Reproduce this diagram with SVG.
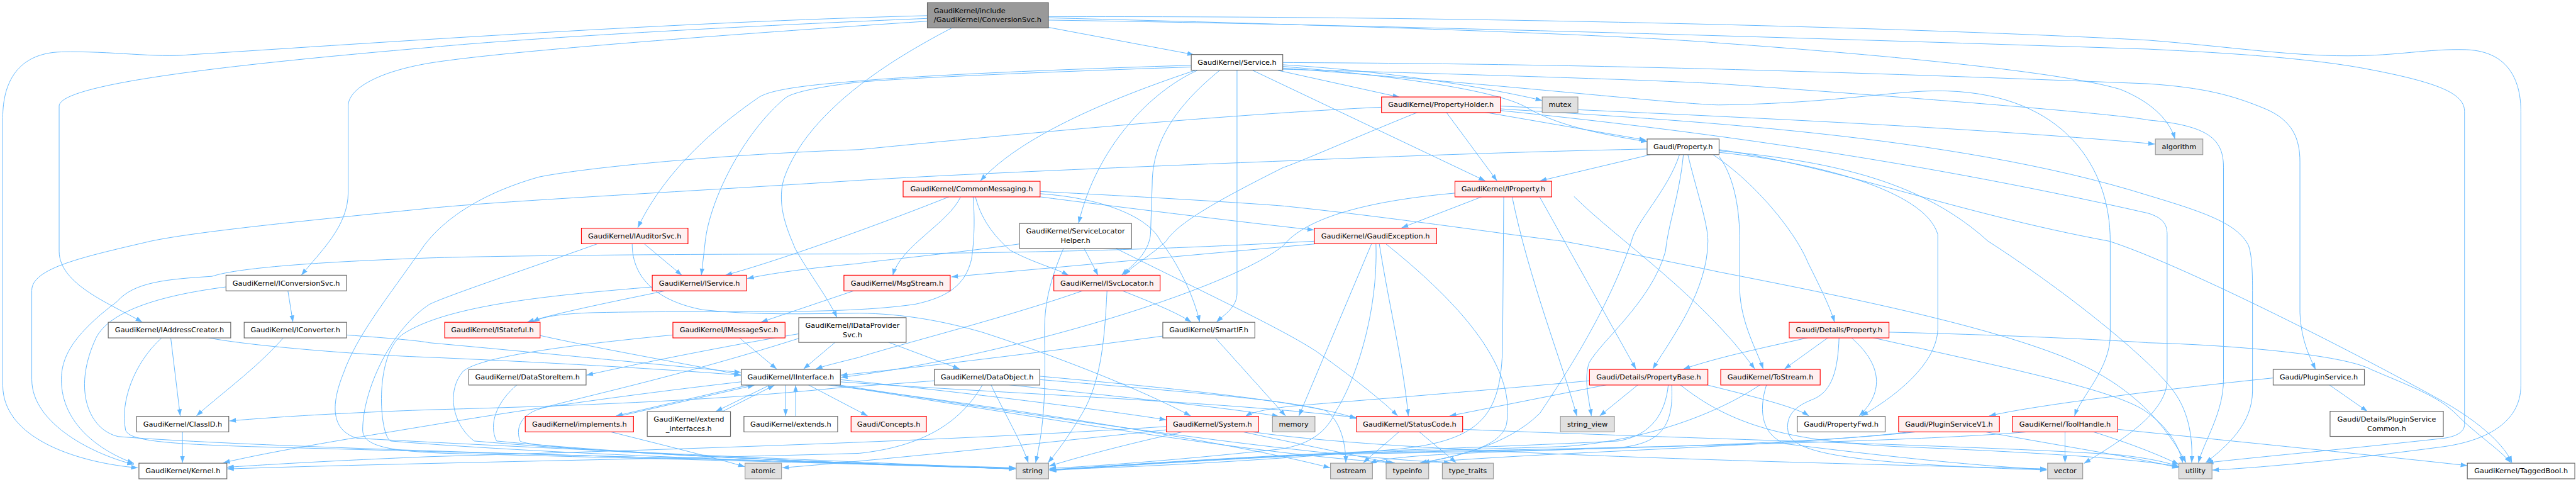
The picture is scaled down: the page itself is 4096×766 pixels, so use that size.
<svg xmlns="http://www.w3.org/2000/svg" width="4096" height="766" viewBox="0 0 4096 766">
<style>
.e{fill:none;stroke:#63b8ff;stroke-width:1.1;marker-end:url(#a)}
rect{stroke-width:1.3}
.w{fill:#ffffff;stroke:#666666}
.r{fill:#fff0f0;stroke:#ff0000}
.g{fill:#e0e0e0;stroke:#999999}
.rt{fill:#999999;stroke:#666666}
text{font-family:"DejaVu Sans","Liberation Sans",sans-serif;font-size:12.8px;fill:#000000}
.c{text-anchor:middle}
</style>
<defs>
<marker id="a" markerUnits="userSpaceOnUse" markerWidth="13" markerHeight="10" refX="12" refY="4.5" orient="auto"><path d="M0,0.3 L12,4.5 L0,8.7 z" fill="#63b8ff"/></marker>
</defs>
<rect x="0" y="0" width="4096" height="766" fill="#ffffff"/>
<g transform="scale(0.8872)">
<g id="edges">
<path class="e" d="M1879,49 L2140,98"/>
<path class="e" d="M1662,28 C1200,40 700,75 340,98 C280,104 200,91 110,93 C30,95 5,150 5,210 L5,690 C5,790 150,830 247,838"/>
<path class="e" d="M1662,33 C1250,50 900,72 770,85 C420,115 106,150 106,190 L106,450 C106,510 200,545 255,577"/>
<path class="e" d="M1662,38 C1300,62 900,92 770,113 C680,128 624,158 624,190 L624,345 C624,405 575,450 540,493"/>
<path class="e" d="M1706,50 C1620,95 1450,190 1405,320 C1390,370 1415,420 1425,445 C1450,490 1485,535 1500,569"/>
<path class="e" d="M1879,32 C2400,45 2900,62 3080,77 C3400,100 3700,130 3800,160 C3862,185 3890,220 3898,249"/>
<path class="e" d="M1879,30 C2600,28 3400,48 3850,72 C4000,84 4100,100 4208,100 C4300,100 4350,87 4420,89 C4500,92 4518,150 4518,200 L4518,690 C4518,760 4450,790 4380,800 C4200,824 4050,838 3965,842"/>
<path class="e" d="M1879,36 C2500,45 3300,70 3850,88 C4000,95 4150,105 4250,125 C4380,150 4417,170 4417,200 L4417,760 C4417,775 4400,782 4380,785 C4200,805 4050,818 3955,829"/>
<path class="e" d="M2142,126 C1950,190 1820,255 1757,324"/>
<path class="e" d="M2146,126 C2060,165 1965,265 1933,400"/>
<path class="e" d="M2186,126 C2095,200 2065,265 2065,330 L2062,420 C2058,455 2030,475 2010,493"/>
<path class="e" d="M2217,126 L2217,525 C2217,550 2195,563 2180,577"/>
<path class="e" d="M2245,126 L2662,324"/>
<path class="e" d="M2290,126 L2508,174"/>
<path class="e" d="M2299,116 C2500,128 2680,160 2764,180"/>
<path class="e" d="M2299,119 C2550,140 2700,168 2740,195 C2800,228 2880,242 2953,254"/>
<path class="e" d="M2299,112 C2700,114 3100,120 3850,150 C3950,157 4000,170 4060,195 C4110,216 4122,250 4122,290 L4122,560 C4124,610 4140,640 4150,662"/>
<path class="e" d="M2299,122 C2700,152 3000,186 3080,188 C3300,185 3400,160 3490,163 C3700,170 3782,300 3782,432 L3782,600 C3782,660 3730,710 3718,745"/>
<path class="e" d="M2135,117 C1900,124 1650,135 1540,145 C1450,152 1380,160 1359,175 C1250,250 1180,330 1143,408"/>
<path class="e" d="M2135,120 C1900,128 1650,138 1540,147 C1470,155 1422,165 1408,175 C1330,240 1272,360 1264,432 L1257,493"/>
<path class="e" d="M2299,124 C2700,135 3000,145 3080,150 C3500,180 3800,205 3850,215 C3960,225 3985,250 3985,300 L3985,680 C3985,740 3950,790 3940,829"/>
<path class="e" d="M2592,201 L2683,324"/>
<path class="e" d="M2661,201 L2950,251"/>
<path class="e" d="M2541,201 C2420,250 2330,290 2300,300 C2180,360 2110,400 2090,432 C2060,460 2030,475 2015,493"/>
<path class="e" d="M2689,190 C3000,205 3500,225 3862,258"/>
<path class="e" d="M2689,195 C3000,215 3500,240 3850,350 C3950,380 4010,400 4030,440 C4037,460 4037,500 4037,520 L4037,700 C4037,760 3990,800 3953,829"/>
<path class="e" d="M2689,198 C3000,230 3400,280 3850,382 C3875,390 3884,400 3884,420 L3884,680 C3884,740 3800,790 3735,830"/>
<path class="e" d="M2476,192 C2300,200 2000,222 1540,268 C1300,276 1050,300 966,317 C850,350 790,400 760,440 C690,540 640,600 615,670 C595,720 590,770 640,785 C1000,805 1600,830 1820,840"/>
<path class="e" d="M2958,277 L2760,324"/>
<path class="e" d="M2952,267 C2700,272 2400,284 2310,288 C2000,300 1700,313 1540,323 C1200,345 900,360 770,373 C550,395 350,415 270,432 C150,460 57,480 57,520 L57,680 C57,760 170,815 240,832"/>
<path class="e" d="M3025,277 C3040,340 3061,400 3061,432 C3060,520 3000,600 2962,661"/>
<path class="e" d="M3017,277 C3010,350 2990,400 2985,450 C2960,540 2870,610 2848,650 C2838,680 2848,715 2852,745"/>
<path class="e" d="M3010,277 C2990,340 2930,400 2924,432 C2880,560 2800,680 2760,740 C2700,800 2600,820 2545,829"/>
<path class="e" d="M3070,277 C3150,330 3220,420 3240,470 C3260,510 3280,550 3288,577"/>
<path class="e" d="M3081,280 C3110,320 3118,380 3118,432 L3118,520 C3120,580 3150,630 3160,661"/>
<path class="e" d="M3081,273 C3250,290 3450,340 3473,420 L3473,590 C3470,660 3380,720 3336,745"/>
<path class="e" d="M3081,270 C3300,290 3450,330 3563,432 C3700,520 3850,640 3895,700 C3925,740 3930,790 3928,829"/>
<path class="e" d="M3081,268 C3300,300 3500,380 3780,432 C3900,470 4200,620 4380,720 C4450,760 4490,800 4502,829"/>
<path class="e" d="M1702,352 C1620,385 1420,460 1300,493"/>
<path class="e" d="M1722,352 C1700,400 1615,440 1600,493"/>
<path class="e" d="M1748,352 C1760,400 1790,430 1810,448 C1850,470 1890,480 1915,493"/>
<path class="e" d="M1859,352 C2000,370 2200,395 2355,412"/>
<path class="e" d="M1864,347 C1980,355 2060,390 2080,432 C2110,470 2140,530 2150,577"/>
<path class="e" d="M1744,352 C1748,400 1745,440 1741,465 C1730,510 1700,532 1640,545 C1500,565 1300,555 1065,560 C1000,562 970,568 955,577"/>
<path class="e" d="M1864,343 C2100,355 2300,368 2310,370 C2500,390 2700,420 2801,432 C2900,450 3000,470 3080,487 C3300,530 3550,580 3700,640 C3800,680 3870,740 3918,829"/>
<path class="e" d="M2657,352 L2512,408"/>
<path class="e" d="M2607,346 C2450,360 2340,390 2300,440 C2200,520 1800,640 1507,676"/>
<path class="e" d="M2710,352 C2740,500 2800,650 2826,745"/>
<path class="e" d="M2759,352 L2932,661"/>
<path class="e" d="M2821,352 C2900,430 3050,530 3145,661"/>
<path class="e" d="M2695,352 L2693,620 C2690,740 2660,790 2500,805 C2200,830 2000,838 1880,841"/>
<path class="e" d="M2458,437 L2328,745"/>
<path class="e" d="M2472,437 C2490,550 2515,650 2524,745"/>
<path class="e" d="M2466,437 C2470,560 2430,680 2395,735 C2380,770 2350,800 2280,806 C2100,825 1950,836 1881,839"/>
<path class="e" d="M2484,437 C2600,530 2720,650 2700,760 C2690,800 2620,815 2550,829"/>
<path class="e" d="M2357,432 C2200,440 2000,452 1540,455 C1200,455 900,458 770,462 C600,468 430,478 380,495 C300,500 240,505 210,540 C130,600 110,640 110,680 C110,760 180,808 240,830"/>
<path class="e" d="M2356,437 L1705,496"/>
<path class="e" d="M1155,437 L1222,493"/>
<path class="e" d="M1070,437 C950,480 800,530 770,545 C700,590 650,700 650,770 C650,800 700,808 800,812 C1300,825 1700,835 1820,840"/>
<path class="e" d="M1133,437 C1133,500 1180,540 1260,555 C1350,565 1450,562 1540,561 C1620,562 1690,575 1760,595 C1900,640 2050,700 2134,745"/>
<path class="e" d="M1943,445 L1968,493"/>
<path class="e" d="M1906,445 C1874,520 1872,560 1872,600 C1874,700 1872,760 1856,829"/>
<path class="e" d="M2000,445 C2150,520 2300,590 2360,630 C2430,680 2480,720 2505,745"/>
<path class="e" d="M1827,437 C1700,455 1560,468 1540,472 C1450,480 1380,490 1339,499"/>
<path class="e" d="M516,521 L525,577"/>
<path class="e" d="M405,514 C280,530 190,560 170,610 C130,700 160,770 212,782 C500,805 1400,825 1820,838"/>
<path class="e" d="M306,605 L323,745"/>
<path class="e" d="M290,605 C240,650 215,720 225,770 C230,790 300,795 450,800 C1000,815 1500,828 1820,839"/>
<path class="e" d="M373,605 C450,620 650,636 770,640 C1000,650 1200,662 1328,672"/>
<path class="e" d="M508,605 C460,660 390,710 352,745"/>
<path class="e" d="M621,600 C700,606 750,610 770,614 C1000,635 1200,655 1328,667"/>
<path class="e" d="M327,773 L327,829"/>
<path class="e" d="M1192,521 C1100,540 1000,560 945,577"/>
<path class="e" d="M1169,514 C1000,528 800,545 720,600 C670,640 680,780 700,790 C1000,815 1500,830 1820,840"/>
<path class="e" d="M968,601 C1100,630 1250,655 1328,672"/>
<path class="e" d="M1325,605 L1392,661"/>
<path class="e" d="M1206,600 C1000,620 860,640 830,665 C800,700 810,760 850,790 C1200,820 1600,832 1820,840"/>
<path class="e" d="M1497,613 L1440,661"/>
<path class="e" d="M1431,598 C1300,620 1150,650 1051,672"/>
<path class="e" d="M1592,613 L1720,661"/>
<path class="e" d="M1432,606 C1200,680 1000,720 960,735 C930,748 925,770 932,790 C950,805 1400,826 1820,840"/>
<path class="e" d="M927,689 C890,720 875,760 890,790 C1200,820 1600,832 1820,840"/>
<path class="e" d="M1345,689 L1104,745"/>
<path class="e" d="M1112,745 L1352,690"/>
<path class="e" d="M1379,690 L1283,737"/>
<path class="e" d="M1295,737 L1388,690"/>
<path class="e" d="M1408,690 L1408,745"/>
<path class="e" d="M1426,745 L1426,690"/>
<path class="e" d="M1328,684 C1100,710 900,740 770,762 C600,790 480,810 400,829"/>
<path class="e" d="M1506,680 C1700,700 1950,730 2090,752"/>
<path class="e" d="M1506,684 C1800,705 2200,720 2431,748"/>
<path class="e" d="M1448,689 L1555,745"/>
<path class="e" d="M1480,689 C1800,730 2200,790 2384,838"/>
<path class="e" d="M1490,689 C1850,745 2250,815 2500,829"/>
<path class="e" d="M1500,689 C1900,752 2350,818 2600,829"/>
<path class="e" d="M1092,773 C1200,800 1280,820 1335,836"/>
<path class="e" d="M1776,689 C1800,740 1830,790 1843,829"/>
<path class="e" d="M1761,689 C1720,760 1650,800 1540,812 C1200,822 700,830 407,840"/>
<path class="e" d="M1675,682 C1600,688 1530,692 1500,695 C1300,715 1100,725 770,734 C600,740 480,748 411,754"/>
<path class="e" d="M1805,689 C2000,710 2200,730 2292,746"/>
<path class="e" d="M1864,680 C2100,700 2300,715 2375,735 C2405,755 2412,800 2412,829"/>
<path class="e" d="M1864,674 C2100,695 2350,720 2431,750"/>
<path class="e" d="M2178,605 L2304,745"/>
<path class="e" d="M2084,602 C1800,640 1600,663 1507,672"/>
<path class="e" d="M2012,521 C2060,540 2110,560 2135,577"/>
<path class="e" d="M1940,521 C1800,570 1600,620 1540,640 C1500,650 1475,656 1462,661"/>
<path class="e" d="M1984,521 C1980,600 1975,680 1940,740 C1910,790 1890,815 1878,829"/>
<path class="e" d="M1530,521 L1364,577"/>
<path class="e" d="M2122,773 C2000,800 1930,820 1880,835"/>
<path class="e" d="M2090,764 C1700,790 1200,805 770,818 C600,825 480,832 407,837"/>
<path class="e" d="M2225,773 C2350,800 2450,820 2495,830"/>
<path class="e" d="M2240,773 C2500,812 3200,828 3668,840"/>
<path class="e" d="M2090,770 C1900,790 1600,822 1402,838"/>
<path class="e" d="M2508,773 L2443,829"/>
<path class="e" d="M2543,773 L2610,829"/>
<path class="e" d="M2621,769 C3000,785 3600,800 3800,815 C3860,822 3890,830 3905,836"/>
<path class="e" d="M2881,689 L2598,745"/>
<path class="e" d="M2936,689 L2867,745"/>
<path class="e" d="M2849,682 C2600,705 2400,720 2310,728 C2270,733 2245,738 2232,746"/>
<path class="e" d="M2990,689 C2985,740 2960,780 2900,790 C2700,800 2450,808 2380,812 C2100,825 1950,838 1881,841"/>
<path class="e" d="M2996,689 C3000,760 2980,795 2900,802 C2700,810 2500,812 2455,830"/>
<path class="e" d="M3011,689 C3100,760 3200,790 3400,800 C3700,812 3850,825 3905,836"/>
<path class="e" d="M3061,690 C3150,712 3220,730 3242,745"/>
<path class="e" d="M3155,689 C3080,740 2950,790 2800,800 C2600,806 2450,810 2380,813 C2100,826 1950,838 1881,842"/>
<path class="e" d="M3166,689 C3150,740 3160,780 3200,795 C3400,820 3550,835 3668,841"/>
<path class="e" d="M3276,605 L3198,661"/>
<path class="e" d="M3318,605 C3370,650 3380,700 3332,745"/>
<path class="e" d="M3240,605 C3150,625 3080,640 3017,661"/>
<path class="e" d="M3385,595 C3600,600 3800,610 3850,614 C4000,618 4200,635 4250,662 C4320,692 4370,710 4400,740 C4440,780 4480,805 4500,829"/>
<path class="e" d="M3357,605 C3600,660 3800,700 3850,740 C3890,770 3905,800 3912,829"/>
<path class="e" d="M3296,605 C3294,660 3285,700 3250,715 C3210,730 3200,750 3205,775 C3215,810 3300,830 3668,842"/>
<path class="e" d="M4174,689 L4243,737"/>
<path class="e" d="M4074,677 C3900,695 3650,725 3565,745"/>
<path class="e" d="M3701,773 L3701,829"/>
<path class="e" d="M3640,773 C3400,795 2700,805 2380,813 C2100,826 1950,838 1881,842"/>
<path class="e" d="M3750,773 C3820,795 3870,815 3905,832"/>
<path class="e" d="M3795,769 C4000,790 4250,815 4422,834"/>
<path class="e" d="M3440,773 C3200,800 2700,808 2380,814 C2100,827 1950,839 1881,843"/>
<path class="e" d="M3555,773 C3700,800 3820,818 3905,838"/>
<path class="e" d="M3430,773 C3200,800 2800,808 2545,829"/>
</g>
<g id="n_root"><rect class="rt" x="1662" y="4.7" width="217" height="45.3"/><text x="1673.6" y="23.5">GaudiKernel/include</text><text x="1673.6" y="40">/GaudiKernel/ConversionSvc.h</text></g>
<g id="n_service"><rect class="w" x="2135" y="97.7" width="164" height="28"/><text class="c" x="2217" y="116">GaudiKernel/Service.h</text></g>
<g id="n_propertyholder"><rect class="r" x="2476" y="173.7" width="213" height="28"/><text class="c" x="2582.5" y="192">GaudiKernel/PropertyHolder.h</text></g>
<g id="n_mutex"><rect class="g" x="2764" y="173.7" width="64" height="28"/><text class="c" x="2796" y="192">mutex</text></g>
<g id="n_property"><rect class="w" x="2952" y="249" width="129" height="28"/><text class="c" x="3016.5" y="267.3">Gaudi/Property.h</text></g>
<g id="n_algorithm"><rect class="g" x="3863" y="249" width="85" height="28"/><text class="c" x="3905.5" y="267.3">algorithm</text></g>
<g id="n_commonmessaging"><rect class="r" x="1618.6" y="324.7" width="245.5" height="28"/><text class="c" x="1741.3" y="343">GaudiKernel/CommonMessaging.h</text></g>
<g id="n_iproperty"><rect class="r" x="2607.6" y="324.7" width="173.4" height="28"/><text class="c" x="2694.3" y="343">GaudiKernel/IProperty.h</text></g>
<g id="n_iauditorsvc"><rect class="r" x="1042" y="408.7" width="191" height="28"/><text class="c" x="1137.5" y="427">GaudiKernel/IAuditorSvc.h</text></g>
<g id="n_servicelocatorhelper"><rect class="w" x="1827" y="400.3" width="201" height="44.7"/><text class="c" x="1927.5" y="418.5">GaudiKernel/ServiceLocator</text><text class="c" x="1927.5" y="435.2">Helper.h</text></g>
<g id="n_gaudiexception"><rect class="r" x="2355.7" y="408.7" width="219" height="28"/><text class="c" x="2465.2" y="427">GaudiKernel/GaudiException.h</text></g>
<g id="n_iconversionsvc"><rect class="w" x="405" y="493" width="216" height="28"/><text class="c" x="513" y="511.3">GaudiKernel/IConversionSvc.h</text></g>
<g id="n_iservice"><rect class="r" x="1169" y="493" width="169" height="28"/><text class="c" x="1253.5" y="511.3">GaudiKernel/IService.h</text></g>
<g id="n_msgstream"><rect class="r" x="1512.5" y="493" width="190.5" height="28"/><text class="c" x="1607.8" y="511.3">GaudiKernel/MsgStream.h</text></g>
<g id="n_isvclocator"><rect class="r" x="1888.7" y="493" width="190.5" height="28"/><text class="c" x="1984" y="511.3">GaudiKernel/ISvcLocator.h</text></g>
<g id="n_iaddresscreator"><rect class="w" x="194" y="577.3" width="219.5" height="28"/><text class="c" x="303.8" y="595.6">GaudiKernel/IAddressCreator.h</text></g>
<g id="n_iconverter"><rect class="w" x="437.6" y="577.3" width="183.6" height="28"/><text class="c" x="529.4" y="595.6">GaudiKernel/IConverter.h</text></g>
<g id="n_istateful"><rect class="r" x="797" y="577.3" width="171" height="28"/><text class="c" x="882.5" y="595.6">GaudiKernel/IStateful.h</text></g>
<g id="n_imessagesvc"><rect class="r" x="1206" y="577.3" width="201" height="28"/><text class="c" x="1306.5" y="595.6">GaudiKernel/IMessageSvc.h</text></g>
<g id="n_idataprovidersvc"><rect class="w" x="1431.5" y="569" width="192.5" height="44.3"/><text class="c" x="1527.8" y="587">GaudiKernel/IDataProvider</text><text class="c" x="1527.8" y="603.7">Svc.h</text></g>
<g id="n_smartif"><rect class="w" x="2084" y="577.3" width="165" height="28"/><text class="c" x="2166.5" y="595.6">GaudiKernel/SmartIF.h</text></g>
<g id="n_detailsproperty"><rect class="r" x="3206.7" y="577.3" width="178.8" height="28"/><text class="c" x="3296.1" y="595.6">Gaudi/Details/Property.h</text></g>
<g id="n_datastoreitem"><rect class="w" x="840.2" y="661.7" width="210.2" height="28"/><text class="c" x="945.3" y="680">GaudiKernel/DataStoreItem.h</text></g>
<g id="n_iinterface"><rect class="w" x="1328.4" y="661.7" width="177.8" height="28"/><text class="c" x="1417.3" y="680">GaudiKernel/IInterface.h</text></g>
<g id="n_dataobject"><rect class="w" x="1674.6" y="661.7" width="189" height="28"/><text class="c" x="1769.1" y="680">GaudiKernel/DataObject.h</text></g>
<g id="n_propertybase"><rect class="r" x="2848.7" y="661.7" width="212.2" height="28"/><text class="c" x="2954.8" y="680">Gaudi/Details/PropertyBase.h</text></g>
<g id="n_tostream"><rect class="r" x="3083.9" y="661.7" width="178.3" height="28"/><text class="c" x="3173" y="680">GaudiKernel/ToStream.h</text></g>
<g id="n_pluginservice"><rect class="w" x="4074" y="661.7" width="163.5" height="28"/><text class="c" x="4155.8" y="680">Gaudi/PluginService.h</text></g>
<g id="n_classid"><rect class="w" x="245" y="745.7" width="165" height="28"/><text class="c" x="327.5" y="764">GaudiKernel/ClassID.h</text></g>
<g id="n_implements"><rect class="r" x="941.4" y="745.7" width="194" height="28"/><text class="c" x="1038.4" y="764">GaudiKernel/implements.h</text></g>
<g id="n_extend_interfaces"><rect class="w" x="1160" y="737.3" width="149.2" height="44.4"/><text class="c" x="1234.6" y="755.5">GaudiKernel/extend</text><text class="c" x="1234.6" y="772.2">_interfaces.h</text></g>
<g id="n_extends"><rect class="w" x="1333.3" y="745.7" width="167.9" height="28"/><text class="c" x="1417.3" y="764">GaudiKernel/extends.h</text></g>
<g id="n_concepts"><rect class="r" x="1525.3" y="745.7" width="135" height="28"/><text class="c" x="1592.8" y="764">Gaudi/Concepts.h</text></g>
<g id="n_system"><rect class="r" x="2090.5" y="745.7" width="165" height="28"/><text class="c" x="2173" y="764">GaudiKernel/System.h</text></g>
<g id="n_memory"><rect class="g" x="2280.6" y="745.7" width="76.1" height="28"/><text class="c" x="2318.7" y="764">memory</text></g>
<g id="n_statuscode"><rect class="r" x="2431.3" y="745.7" width="190.1" height="28"/><text class="c" x="2526.4" y="764">GaudiKernel/StatusCode.h</text></g>
<g id="n_string_view"><rect class="g" x="2796.7" y="745.7" width="96.7" height="28"/><text class="c" x="2845" y="764">string_view</text></g>
<g id="n_propertyfwd"><rect class="w" x="3221" y="745.7" width="157.6" height="28"/><text class="c" x="3299.8" y="764">Gaudi/PropertyFwd.h</text></g>
<g id="n_pluginservicev1"><rect class="r" x="3402.7" y="745.7" width="180.7" height="28"/><text class="c" x="3493" y="764">Gaudi/PluginServiceV1.h</text></g>
<g id="n_toolhandle"><rect class="r" x="3606.5" y="745.7" width="189" height="28"/><text class="c" x="3701" y="764">GaudiKernel/ToolHandle.h</text></g>
<g id="n_pluginservicecommon"><rect class="w" x="4176" y="736.7" width="203" height="45"/><text class="c" x="4277.5" y="755">Gaudi/Details/PluginService</text><text class="c" x="4277.5" y="771.7">Common.h</text></g>
<g id="n_kernel"><rect class="w" x="249" y="829.7" width="157.6" height="28"/><text class="c" x="327.8" y="848">GaudiKernel/Kernel.h</text></g>
<g id="n_atomic"><rect class="g" x="1335.3" y="829.7" width="65.3" height="28"/><text class="c" x="1368" y="848">atomic</text></g>
<g id="n_string"><rect class="g" x="1821.4" y="829.7" width="58" height="28"/><text class="c" x="1850.4" y="848">string</text></g>
<g id="n_ostream"><rect class="g" x="2384.6" y="829.7" width="75.2" height="28"/><text class="c" x="2422.2" y="848">ostream</text></g>
<g id="n_typeinfo"><rect class="g" x="2484.3" y="829.7" width="76.2" height="28"/><text class="c" x="2522.4" y="848">typeinfo</text></g>
<g id="n_type_traits"><rect class="g" x="2585" y="829.7" width="91.4" height="28"/><text class="c" x="2630.7" y="848">type_traits</text></g>
<g id="n_vector"><rect class="g" x="3669.8" y="829.7" width="62.9" height="28"/><text class="c" x="3701.3" y="848">vector</text></g>
<g id="n_utility"><rect class="g" x="3905" y="829.7" width="59.4" height="28"/><text class="c" x="3934.7" y="848">utility</text></g>
<g id="n_taggedbool"><rect class="w" x="4422" y="829.7" width="192.6" height="28"/><text class="c" x="4518.3" y="848">GaudiKernel/TaggedBool.h</text></g>
</g>
</svg>
